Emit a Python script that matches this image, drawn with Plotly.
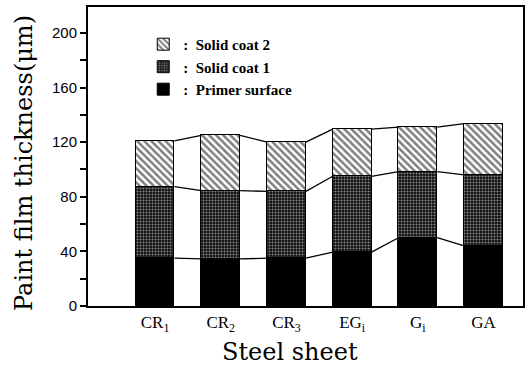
import plotly.graph_objects as go

categories = ["CR<sub>1</sub>", "CR<sub>2</sub>", "CR<sub>3</sub>", "EG<sub>i</sub>", "G<sub>i</sub>", "GA"]
primer = [35, 34.5, 35, 39.5, 50, 44]
coat1 = [52.5, 50, 49, 55.5, 48.5, 52]
coat2 = [33.5, 40.5, 36, 34.5, 32.5, 37.5]
y_ticks = [0, 40, 80, 120, 160, 200]

BAR_W = 0.59
xs = list(range(len(categories)))

fig = go.Figure()
fig.add_trace(go.Bar(
    x=xs, y=primer, width=BAR_W, name=":  Primer surface", legendrank=3,
    marker=dict(color="black", line=dict(color="black", width=1)),
))
fig.add_trace(go.Bar(
    x=xs, y=coat1, width=BAR_W, name=":  Solid coat 1", legendrank=2,
    marker=dict(color="black", line=dict(color="black", width=1),
                pattern=dict(shape=".", fgcolor="white", bgcolor="#111",
                             size=3, solidity=0.35)),
))
fig.add_trace(go.Bar(
    x=xs, y=coat2, width=BAR_W, name=":  Solid coat 2", legendrank=1,
    marker=dict(color="white", line=dict(color="black", width=1),
                pattern=dict(shape="\\", fgcolor="black", bgcolor="white",
                             size=5, solidity=0.5)),
))

# connecting lines between adjacent bars at each layer boundary
levels = []
cum = [0] * len(xs)
for series in (primer, coat1, coat2):
    cum = [c + s for c, s in zip(cum, series)]
    levels.append(list(cum))
for lev in levels:
    lx, ly = [], []
    for i in range(len(xs) - 1):
        lx += [xs[i] + BAR_W / 2, xs[i + 1] - BAR_W / 2, None]
        ly += [lev[i], lev[i + 1], None]
    fig.add_trace(go.Scatter(x=lx, y=ly, mode="lines", showlegend=False,
                             line=dict(color="black", width=1.3),
                             hoverinfo="skip"))

fig.update_layout(
    width=531, height=380,
    margin=dict(l=88, r=8, t=7, b=74, autoexpand=False),
    barmode="stack", bargap=0,
    plot_bgcolor="white", paper_bgcolor="white",
    showlegend=True,
    legend=dict(x=0.127, y=0.93, xanchor="left", yanchor="top",
                traceorder="normal",
                font=dict(family="Liberation Serif", size=15, color="black",
                          weight="bold"),
                bgcolor="rgba(0,0,0,0)", itemwidth=30),
    font=dict(family="DejaVu Serif", color="black"),
)
fig.add_annotation(text="Steel sheet", xref="paper", yref="paper",
                   x=(290 - 88) / 435, y=-(352 - 306) / 299,
                   xanchor="center", yanchor="middle", showarrow=False,
                   font=dict(family="DejaVu Serif", size=24, color="black"))
fig.add_annotation(text="Paint film thickness(μm)", xref="paper", yref="paper",
                   x=-(88 - 24) / 435, y=(306 - 163) / 299, textangle=-90,
                   xanchor="center", yanchor="middle", showarrow=False,
                   font=dict(family="DejaVu Serif", size=24, color="black"))
fig.update_xaxes(
    range=[-1.02, 5.6], tickmode="array", tickvals=xs, ticktext=categories,
    showline=True, linecolor="black", linewidth=2, mirror=True,
    ticks="", showgrid=False, zeroline=False, automargin=False,
    tickfont=dict(family="Liberation Serif", size=17, color="black"),
)
fig.update_yaxes(
    range=[0, 219], tickmode="array", tickvals=y_ticks,
    showline=True, linecolor="black", linewidth=2, mirror=True,
    ticks="outside", ticklen=6, tickwidth=1.5, tickcolor="black",
    minor=dict(tickvals=[20, 60, 100, 140, 180], ticks="outside", ticklen=6,
               tickwidth=1.5, tickcolor="black"),
    showgrid=False, zeroline=False, automargin=False,
    tickfont=dict(family="Liberation Sans", size=15, color="black"),
)

fig.write_html("out.html", config={"displayModeBar": False},
               post_script="document.body.style.margin='0';")
